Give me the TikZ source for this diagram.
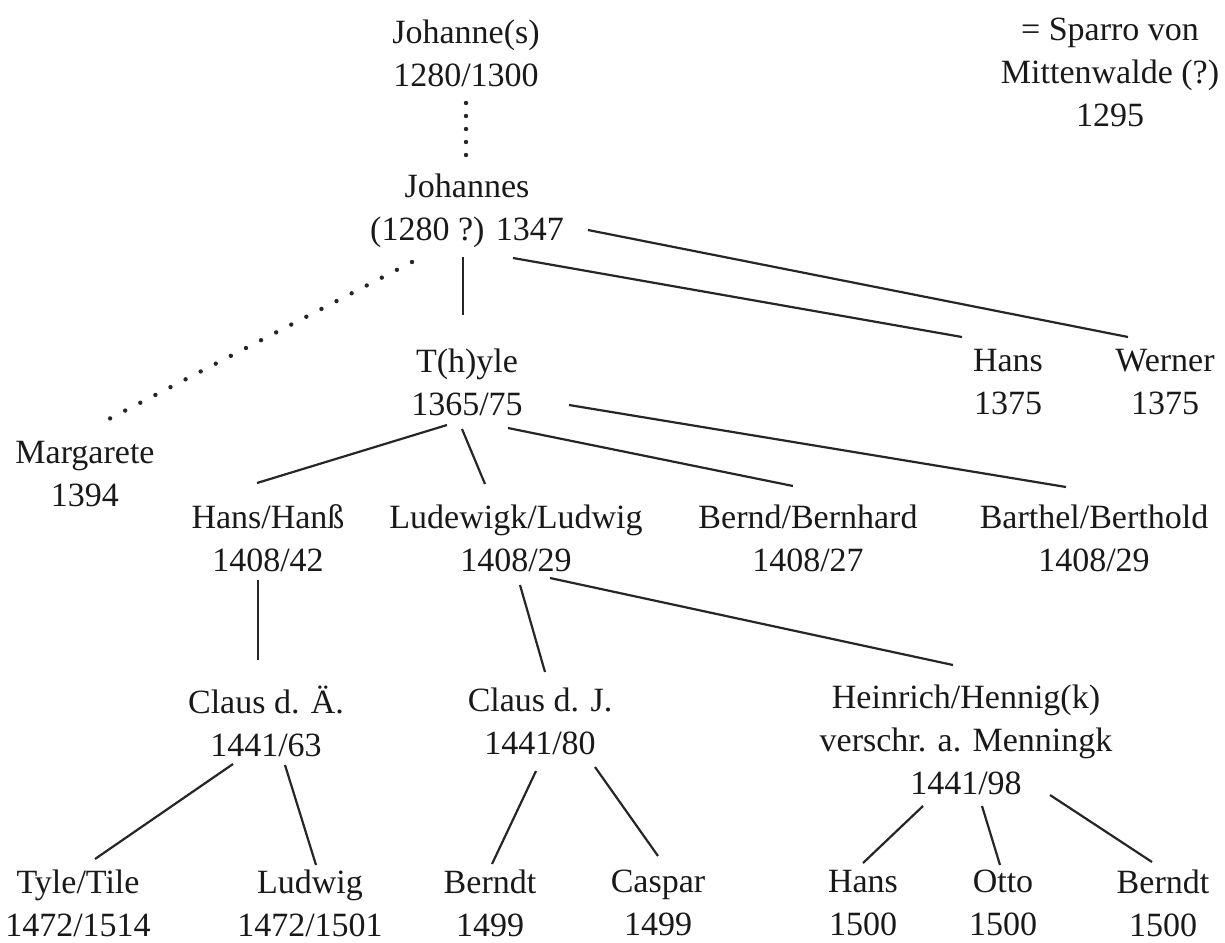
\documentclass[tikz,border=0pt]{standalone}
\usepackage{fontspec}
\setmainfont{Liberation Serif}
\usetikzlibrary{calc}

\tikzset{
  person/.style={align=center, inner sep=0pt, text=black!90,
    font=\fontsize{17pt}{21.5pt}\selectfont},
  kin/.style={line width=1.1pt, draw=black!85},
  kindots/.style={line width=2.2pt, draw=black!85, line cap=round,
    dash pattern=on 0pt off #1},
}

\begin{document}
\begin{tikzpicture}[x=0.5pt,y=-0.5pt]
    \useasboundingbox (0,0) rectangle (1225,942);
    % generations, top to bottom
    \node[person] (johs) at (466,53) {Johanne(s)\\1280/1300};
    \node[person] (sparro) at (1110,72) {= Sparro von\\Mittenwalde (?)\\1295};
    \node[person] (johannes) at (467,211) {Johannes\\(1280 ?) 1347};

    \node[person] (thyle) at (467,382) {T(h)yle\\1365/75};
    \node[person] (hansb) at (1008,382) {Hans\\1375};
    \node[person] (werner) at (1165,382) {Werner\\1375};
    \node[person] (margarete) at (85,474) {Margarete\\1394};

    \node[person] (hanss) at (268,538) {Hans/Hanß\\1408/42};
    \node[person] (ludewigk) at (516,538) {Ludewigk/Ludwig\\1408/29};
    \node[person] (bernd) at (808,538) {Bernd/Bernhard\\1408/27};
    \node[person] (barthel) at (1094,538) {Barthel/Berthold\\1408/29};

    \node[person] (clausa) at (266,721) {Claus d. Ä.\\1441/63};
    \node[person] (clausj) at (540,721) {Claus d. J.\\1441/80};
    \node[person] (heinrich) at (966,740) {Heinrich/Hennig(k)\\verschr. a. Menningk\\1441/98};

    \node[person] (tyle) at (78,903) {Tyle/Tile\\1472/1514};
    \node[person] (ludwig) at (310,903) {Ludwig\\1472/1501};
    \node[person] (berndt) at (490,903) {Berndt\\1499};
    \node[person] (caspar) at (658,903) {Caspar\\1499};
    \node[person] (hansc) at (863,903) {Hans\\1500};
    \node[person] (otto) at (1003,903) {Otto\\1500};
    \node[person] (berndtb) at (1163,903) {Berndt\\1500};

    % descent lines
    \draw[kindots=6.5pt] ($(johs)+(0,50)$) -- ($(johannes)+(-1,-56)$);
    \draw[kindots=8.5pt] ($(johannes)+(-55,51)$) -- ($(margarete)+(22,-54)$);
    \draw[kin] ($(johannes)+(121,19)$) -- ($(werner)+(-37,-45)$);
    \draw[kin] ($(johannes)+(46,47)$) -- ($(hansb)+(-46,-45)$);
    \draw[kin] ($(johannes)+(-4,46)$) -- ($(thyle)+(-4,-67)$);

    \draw[kin] ($(thyle)+(-20,43)$) -- ($(hanss)+(-11,-55)$);
    \draw[kin] ($(thyle)+(-5,47)$) -- ($(ludewigk)+(-31,-54)$);
    \draw[kin] ($(thyle)+(41,46)$) -- ($(bernd)+(-15,-52)$);
    \draw[kin] ($(thyle)+(102,23)$) -- ($(barthel)+(-28,-51)$);

    \draw[kin] ($(hanss)+(-10,42)$) -- ($(clausa)+(-8,-61)$);
    \draw[kin] ($(ludewigk)+(4,47)$) -- ($(clausj)+(5,-49)$);
    \draw[kin] ($(ludewigk)+(34,40)$) -- ($(heinrich)+(-13,-75)$);

    \draw[kin] ($(clausa)+(-33,43)$) -- ($(tyle)+(17,-44)$);
    \draw[kin] ($(clausa)+(19,44)$) -- ($(ludwig)+(6,-38)$);
    \draw[kin] ($(clausj)+(-4,50)$) -- ($(berndt)+(2,-39)$);
    \draw[kin] ($(clausj)+(55,46)$) -- ($(caspar)+(0,-47)$);
    \draw[kin] ($(heinrich)+(-43,66)$) -- ($(hansc)+(0,-40)$);
    \draw[kin] ($(heinrich)+(16,66)$) -- ($(otto)+(-3,-38)$);
    \draw[kin] ($(heinrich)+(84,55)$) -- ($(berndtb)+(-11,-41)$);
\end{tikzpicture}
\end{document}
